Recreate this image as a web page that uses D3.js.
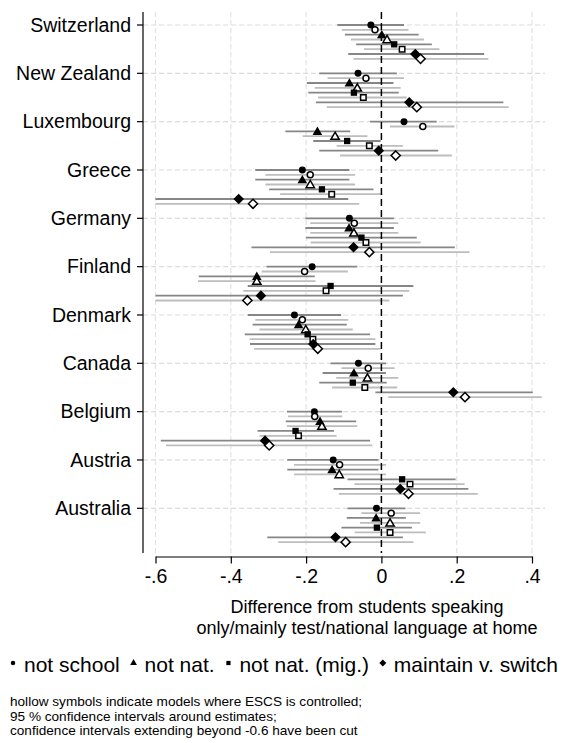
<!DOCTYPE html>
<html><head><meta charset="utf-8">
<script src="https://cdn.jsdelivr.net/npm/d3@7"></script>
<style>
body{margin:0;background:#fff;}
svg{display:block;font-family:Helvetica,Arial,"Liberation Sans",sans-serif;}
</style></head>
<body><svg id="c" width="564" height="743"></svg>
<script>
// ---------- data ----------
const countries = ["Switzerland","New Zealand","Luxembourg","Greece","Germany","Finland","Denmark","Canada","Belgium","Austria","Australia"];
const xTicks = [-0.6,-0.4,-0.2,0,0.2,0.4];
const xTickLabels = ["-.6","-.4","-.2","0",".2",".4"];
// each entry: [estimate, lower CI, upper CI] per country (top to bottom)
const notSchool = [[-0.028,-0.117,0.060],[-0.062,-0.165,0.041],[0.060,-0.030,0.147],[-0.210,-0.335,-0.085],[-0.085,-0.202,0.033],[-0.184,-0.305,-0.064],[-0.231,-0.355,-0.107],[-0.061,-0.135,0.012],[-0.178,-0.251,-0.105],[-0.128,-0.250,-0.008],[-0.013,-0.090,0.064]];
const notSchoolESCS = [[-0.017,-0.105,0.072],[-0.041,-0.143,0.060],[0.110,0.023,0.194],[-0.189,-0.308,-0.070],[-0.072,-0.189,0.045],[-0.204,-0.318,-0.089],[-0.210,-0.335,-0.088],[-0.035,-0.106,0.035],[-0.177,-0.248,-0.104],[-0.111,-0.232,0.012],[0.026,-0.053,0.103]];
const notNat = [[0.001,-0.097,0.099],[-0.085,-0.198,0.032],[-0.170,-0.255,-0.083],[-0.210,-0.335,-0.085],[-0.086,-0.202,0.033],[-0.331,-0.485,-0.177],[-0.220,-0.342,-0.092],[-0.073,-0.156,0.012],[-0.163,-0.254,-0.067],[-0.131,-0.250,-0.008],[-0.014,-0.092,0.065]];
const notNatESCS = [[0.015,-0.081,0.113],[-0.064,-0.177,0.051],[-0.123,-0.209,-0.037],[-0.189,-0.308,-0.070],[-0.073,-0.189,0.045],[-0.331,-0.487,-0.175],[-0.201,-0.324,-0.076],[-0.037,-0.120,0.045],[-0.158,-0.251,-0.064],[-0.112,-0.232,0.012],[0.023,-0.057,0.103]];
const notNatMig = [[0.034,-0.067,0.134],[-0.073,-0.194,0.046],[-0.091,-0.181,-0.002],[-0.158,-0.298,-0.021],[-0.053,-0.200,0.094],[-0.135,-0.355,0.085],[-0.196,-0.363,-0.030],[-0.076,-0.165,0.014],[-0.228,-0.329,-0.126],[0.055,-0.090,0.197],[-0.012,-0.106,0.081]];
const notNatMigESCS = [[0.055,-0.046,0.154],[-0.048,-0.168,0.067],[-0.032,-0.119,0.057],[-0.132,-0.269,0.003],[-0.041,-0.188,0.104],[-0.147,-0.367,0.074],[-0.182,-0.350,-0.016],[-0.044,-0.131,0.042],[-0.220,-0.324,-0.119],[0.076,-0.072,0.221],[0.023,-0.071,0.118]];
const maintain = [[0.090,-0.088,0.273],[0.074,-0.174,0.324],[-0.007,-0.165,0.151],[-0.379,-0.6,-0.088],[-0.074,-0.345,0.195],[-0.320,-0.6,0.057],[-0.181,-0.349,-0.016],[0.191,-0.016,0.402],[-0.309,-0.586,-0.030],[0.050,-0.127,0.231],[-0.122,-0.303,0.057]];
const maintainESCS = [[0.104,-0.074,0.284],[0.094,-0.145,0.338],[0.038,-0.110,0.187],[-0.341,-0.6,-0.059],[-0.032,-0.296,0.234],[-0.356,-0.6,0.021],[-0.169,-0.338,-0.002],[0.222,0.018,0.426],[-0.298,-0.572,-0.024],[0.072,-0.113,0.256],[-0.095,-0.274,0.085]];
const legendLabels = ["not school","not nat.","not nat. (mig.)","maintain v. switch"];
const axisTitle = ["Difference from students speaking","only/mainly test/national language at home"];
const notes = ["hollow symbols indicate models where ESCS is controlled;","95 % confidence intervals around estimates;","confidence intervals extending beyond -0.6 have been cut"];

const series = [
  {data:notSchool, shape:"circle", hollow:false},
  {data:notSchoolESCS, shape:"circle", hollow:true},
  {data:notNat, shape:"triangle", hollow:false},
  {data:notNatESCS, shape:"triangle", hollow:true},
  {data:notNatMig, shape:"square", hollow:false},
  {data:notNatMigESCS, shape:"square", hollow:true},
  {data:maintain, shape:"diamond", hollow:false},
  {data:maintainESCS, shape:"diamond", hollow:true}
];

// ---------- layout ----------
const svg = d3.select("#c");
const plotL = 143, plotR = 545, plotT = 12, plotB = 553;
const x = d3.scaleLinear().domain([-0.6,0.4]).range([155.5,532]);
// vertical position: country i at 10*i, rows offset 0..7
const y = d3.scaleLinear().domain([0,100]).range([25,508.3]);

const diamondType = {draw(ctx,size){const r=Math.sqrt(size/2);ctx.moveTo(0,-r);ctx.lineTo(r,0);ctx.lineTo(0,r);ctx.lineTo(-r,0);ctx.closePath();}};
const shapeType = {circle:d3.symbolCircle, triangle:d3.symbolTriangle, square:d3.symbolSquare, diamond:diamondType};
const shapeSize = {circle:38, triangle:40, square:40, diamond:56};
const shapeSizeHollow = {circle:28, triangle:30, square:30, diamond:42};

// gridlines
const g = svg.append("g");
g.selectAll("line.hg").data(countries).join("line")
  .attr("x1",plotL).attr("x2",plotR)
  .attr("y1",(d,i)=>y(i*10)).attr("y2",(d,i)=>y(i*10))
  .attr("stroke","#dcdcdc").attr("stroke-width",1.2).attr("stroke-dasharray","5,3");
g.selectAll("line.vg").data(xTicks.filter(t=>t!==0)).join("line")
  .attr("x1",d=>x(d)).attr("x2",d=>x(d)).attr("y1",plotT).attr("y2",plotB)
  .attr("stroke","#e2e2e2").attr("stroke-width",1.2).attr("stroke-dasharray","5,3");

// CI lines
series.forEach((s,si)=>{
  svg.append("g").selectAll("line").data(s.data).join("line")
    .attr("x1",d=>x(Math.max(d[1],-0.6))).attr("x2",d=>x(d[2]))
    .attr("y1",(d,i)=>y(i*10+si)).attr("y2",(d,i)=>y(i*10+si))
    .attr("stroke", s.hollow?"#bdbdbd":"#868686").attr("stroke-width",1.8);
});

// zero line
svg.append("line").attr("x1",x(0)).attr("x2",x(0)).attr("y1",plotT).attr("y2",plotB)
  .attr("stroke","#000").attr("stroke-width",1.5).attr("stroke-dasharray","7,4");

// markers
series.forEach((s,si)=>{
  const sym = d3.symbol().type(shapeType[s.shape]).size(s.hollow?shapeSizeHollow[s.shape]:shapeSize[s.shape]);
  svg.append("g").selectAll("path").data(s.data).join("path")
    .attr("d",sym)
    .attr("transform",(d,i)=>`translate(${x(d[0])},${y(i*10+si)+(s.shape==="triangle"?0.8:0)})`)
    .attr("fill", s.hollow?"#fff":"#000")
    .attr("stroke", s.hollow?"#000":"none").attr("stroke-width",1.5);
});

// y axis
svg.append("line").attr("x1",plotL).attr("x2",plotL).attr("y1",plotT).attr("y2",plotB)
  .attr("stroke","#000").attr("stroke-width",1.2);
const yl = svg.append("g");
yl.selectAll("line").data(countries).join("line")
  .attr("x1",plotL-6).attr("x2",plotL).attr("y1",(d,i)=>y(i*10)).attr("y2",(d,i)=>y(i*10))
  .attr("stroke","#000").attr("stroke-width",1.2);
yl.selectAll("text").data(countries).join("text")
  .attr("x",plotL-12).attr("y",(d,i)=>y(i*10)).attr("dy","0.35em")
  .attr("text-anchor","end").attr("font-size",19.5).text(d=>d);

// x axis
const xAxisY = 556.5;
const xa = svg.append("g").attr("transform",`translate(0,${xAxisY})`)
  .call(d3.axisBottom(x).tickValues(xTicks).tickFormat((d,i)=>xTickLabels[i]).tickSize(7).tickPadding(6).tickSizeOuter(0));
xa.select(".domain").attr("stroke-width",1.2);
xa.selectAll(".tick line").attr("stroke-width",1.2);
xa.selectAll("text").attr("font-size",19.5).attr("font-family","Helvetica,Arial,'Liberation Sans',sans-serif").attr("fill","#000");

// axis title
svg.append("g").selectAll("text").data(axisTitle).join("text")
  .attr("x",367).attr("y",(d,i)=>613+i*21).attr("text-anchor","middle").attr("font-size",18).text(d=>d);

// legend: spread evenly between left and right limits
const leg = svg.append("g");
const legShapes = ["circle","triangle","square","diamond"];
const legSize = {circle:16, triangle:20, square:18, diamond:24};
const ly = 665, legL = 13, legR = 558, symGap = 11;
const texts = legendLabels.map(lab=>leg.append("text").attr("y",ly).attr("dy","0.35em").attr("font-size",21).text(lab));
const widths = texts.map(t=>t.node().getComputedTextLength());
const totalW = d3.sum(widths) + legendLabels.length*symGap;
const gap = (legR - legL - totalW)/(legendLabels.length-1);
let lx = legL;
legendLabels.forEach((lab,i)=>{
  leg.append("path").attr("d",d3.symbol().type(shapeType[legShapes[i]]).size(legSize[legShapes[i]])())
    .attr("transform",`translate(${lx},${ly-2})`).attr("fill","#000");
  texts[i].attr("x",lx+symGap);
  lx += symGap + widths[i] + gap;
});

// notes
svg.append("g").selectAll("text").data(notes).join("text")
  .attr("x",10).attr("y",(d,i)=>706+i*14.5).attr("font-size",13.6).text(d=>d);
</script></body></html>
